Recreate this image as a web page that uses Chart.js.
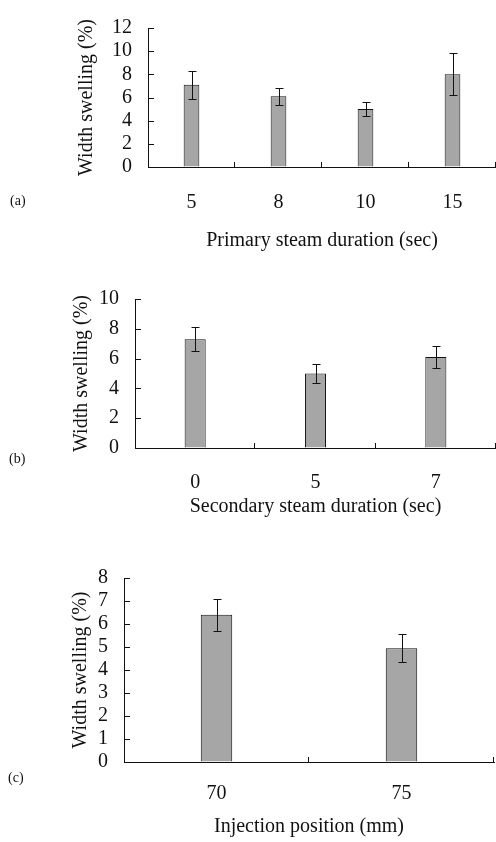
<!DOCTYPE html>
<html>
<head>
<meta charset="utf-8">
<script src="https://cdn.jsdelivr.net/npm/chart.js@4"></script>
<style>
    body { margin: 0; background: #fff; width: 496px; height: 842px; position: relative; overflow: hidden; }
    .panel { position: absolute; left: 0; }
    .tag { position: absolute; font-family: "Liberation Serif", serif; font-size: 14px; color: #111; }
</style>
</head>
<body>
<div class="panel" style="top:0"><canvas id="chart-a" width="496" height="255"></canvas></div>
<div class="panel" style="top:270px"><canvas id="chart-b" width="496" height="255"></canvas></div>
<div class="panel" style="top:550px"><canvas id="chart-c" width="496" height="292"></canvas></div>
<div class="tag" style="left:10px; top:193px">(a)</div>
<div class="tag" style="left:9px; top:451px">(b)</div>
<div class="tag" style="left:8px; top:770px">(c)</div>
<script>
// (a) primary steam duration
const primaryLabels = ["5", "8", "10", "15"];
const primarySwelling = [7.1, 6.1, 5.0, 8.0];
const primaryError = [1.2, 0.75, 0.6, 1.8];
const primaryTicks = { max: 12, step: 2 };

// (b) secondary steam duration
const secondaryLabels = ["0", "5", "7"];
const secondarySwelling = [7.3, 5.0, 6.1];
const secondaryError = [0.8, 0.65, 0.75];
const secondaryTicks = { max: 10, step: 2 };

// (c) injection position
const injectionLabels = ["70", "75"];
const injectionSwelling = [6.4, 4.95];
const injectionError = [0.7, 0.62];
const injectionTicks = { max: 8, step: 1 };

const FONT = "'Liberation Serif', 'Times New Roman', serif";
const INK = "#111";

// small inward tick marks on both axes, like the printed figure
const innerTicks = {
    id: "innerTicks",
    afterDatasetsDraw(chart) {
        const { ctx, scales } = chart;
        const x = scales.x;
        const y = scales.y;
        ctx.save();
        ctx.strokeStyle = INK;
        ctx.lineWidth = 1;
        ctx.beginPath();
        y.ticks.forEach((t) => {
            const py = Math.round(y.getPixelForValue(t.value)) + 0.5;
            ctx.moveTo(x.left, py);
            ctx.lineTo(x.left + 6, py);
        });
        const n = x.ticks.length;
        const step = (x.right - x.left) / n;
        for (let i = 1; i <= n; i++) {
            const px = Math.round(x.left + i * step) - 0.5;
            ctx.moveTo(px, y.bottom);
            ctx.lineTo(px, y.bottom - 5);
        }
        ctx.stroke();
        ctx.restore();
    }
};

const errorBars = {
    id: "errorBars",
    afterDatasetsDraw(chart, args, opts) {
        const { ctx } = chart;
        const y = chart.scales.y;
        const meta = chart.getDatasetMeta(0);
        const values = chart.data.datasets[0].data;
        ctx.save();
        ctx.strokeStyle = INK;
        ctx.lineWidth = 1;
        meta.data.forEach((bar, i) => {
            const err = opts.errors[i];
            const cx = Math.round(bar.x) + 0.5;
            const top = Math.round(y.getPixelForValue(values[i] + err)) + 0.5;
            const bot = Math.round(y.getPixelForValue(values[i] - err)) + 0.5;
            ctx.beginPath();
            ctx.moveTo(cx, top);
            ctx.lineTo(cx, bot);
            ctx.moveTo(cx - 4, top);
            ctx.lineTo(cx + 4, top);
            ctx.moveTo(cx - 4, bot);
            ctx.lineTo(cx + 4, bot);
            ctx.stroke();
        });
        ctx.restore();
    }
};

function buildChart(canvasId, cfg) {
    const canvas = document.getElementById(canvasId);
    return new Chart(canvas.getContext("2d"), {
        type: "bar",
        data: {
            labels: cfg.labels,
            datasets: [{
                data: cfg.values,
                backgroundColor: "#a6a6a6",
                borderColor: INK,
                borderWidth: 1,
                barPercentage: cfg.barPct,
                categoryPercentage: 1
            }]
        },
        options: {
            responsive: false,
            animation: false,
            devicePixelRatio: 1,
            layout: { padding: { top: cfg.top, right: cfg.right, left: 0, bottom: 0 } },
            plugins: {
                legend: { display: false },
                tooltip: { enabled: false },
                errorBars: { errors: cfg.errors }
            },
            scales: {
                x: {
                    offset: true,
                    grid: { drawOnChartArea: false, drawTicks: false },
                    border: { color: INK, width: 1 },
                    ticks: { color: INK, font: { family: FONT, size: 20 }, padding: cfg.xTickPad, autoSkip: false, maxRotation: 0 },
                    title: {
                        display: true,
                        text: cfg.xTitle,
                        color: INK,
                        font: { family: FONT, size: 20 },
                        padding: { top: 0, bottom: cfg.xTitlePad }
                    },
                    afterFit: (scale) => { scale.height = cfg.xHeight; }
                },
                y: {
                    min: 0,
                    max: cfg.ticks.max,
                    grid: { drawOnChartArea: false, drawTicks: false },
                    border: { color: INK, width: 1 },
                    ticks: { stepSize: cfg.ticks.step, autoSkip: false, color: INK, font: { family: FONT, size: 20 }, padding: 16 },
                    title: {
                        display: true,
                        text: "Width swelling (%)",
                        color: INK,
                        font: { family: FONT, size: 20 },
                        padding: { top: cfg.yTitlePad, bottom: 0 }
                    },
                    afterFit: (scale) => { scale.width = cfg.left; }
                }
            }
        },
        plugins: [innerTicks, errorBars]
    });
}

buildChart("chart-a", {
    labels: primaryLabels, values: primarySwelling, errors: primaryError, ticks: primaryTicks,
    xTitle: "Primary steam duration (sec)",
    top: 14, right: 0, left: 148, xHeight: 88, xTickPad: 24, xTitlePad: 2, yTitlePad: 75, barPct: 0.18
});

buildChart("chart-b", {
    labels: secondaryLabels, values: secondarySwelling, errors: secondaryError, ticks: secondaryTicks,
    xTitle: "Secondary steam duration (sec)",
    top: 29, right: 0, left: 135, xHeight: 77, xTickPad: 23, xTitlePad: 6, yTitlePad: 70, barPct: 0.175
});

buildChart("chart-c", {
    labels: injectionLabels, values: injectionSwelling, errors: injectionError, ticks: injectionTicks,
    xTitle: "Injection position (mm)",
    top: 21, right: 2, left: 124, xHeight: 80, xTickPad: 20, xTitlePad: 3, yTitlePad: 69, barPct: 0.17
});
</script>
</body>
</html>
